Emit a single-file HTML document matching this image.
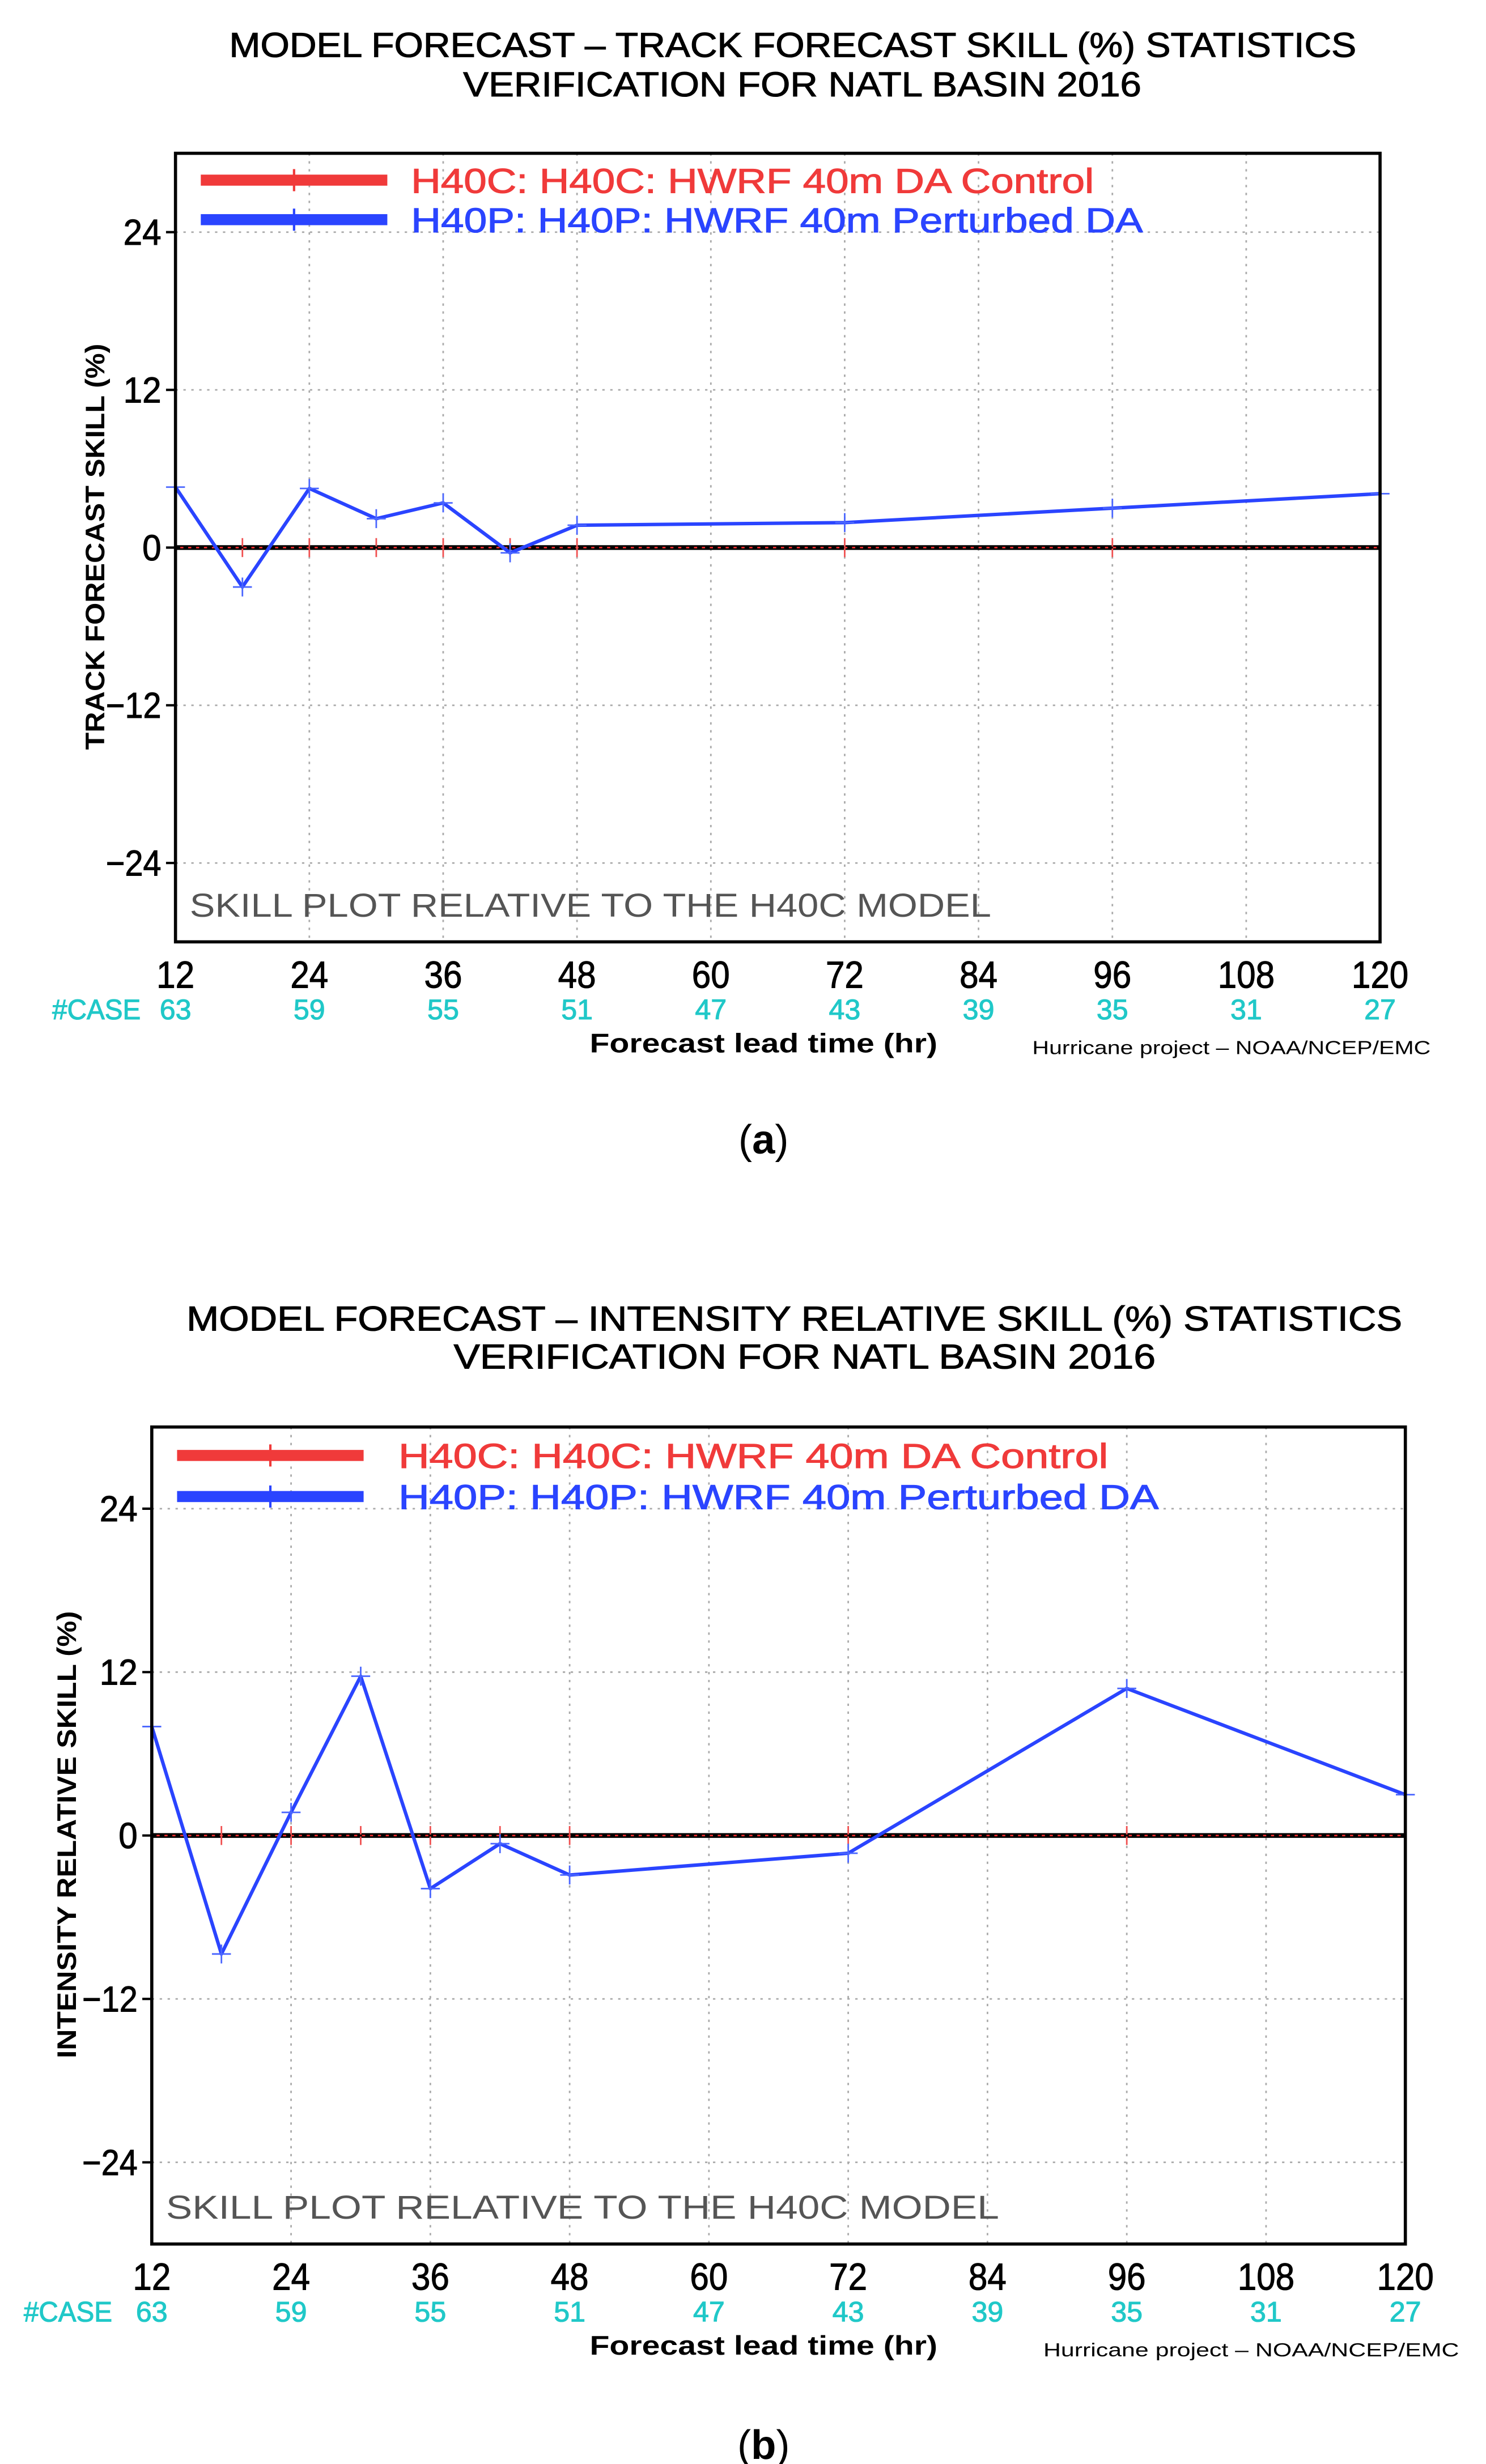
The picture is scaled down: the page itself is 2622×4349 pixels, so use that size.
<!DOCTYPE html>
<html><head><meta charset="utf-8"><style>
html,body{margin:0;padding:0;background:#fff}
svg{display:block}
text{font-family:"Liberation Sans",sans-serif}
</style></head><body>
<svg id="fig" width="2622" height="4349" viewBox="0 0 940 1559.2" xmlns="http://www.w3.org/2000/svg"></svg>
<script>
const leadHours = [12,18,24,30,36,42,48,72,96,120];
const trackSkillH40P = [4.6,-3.0,4.5,2.2,3.4,-0.4,1.7,1.9,3.0,4.1];
const intensitySkillH40P = [8.0,-8.7,1.7,11.7,-3.9,-0.6,-2.9,-1.3,10.8,3.0];
const controlSkill = [0,0,0,0,0,0,0,0,0,0];
const xTicks = [12,24,36,48,60,72,84,96,108,120];
const caseCounts = [63,59,55,51,47,43,39,35,31,27];
const yTicks = [24,12,0,-12,-24];

const NS='http://www.w3.org/2000/svg';
const svg=document.getElementById('fig');
function mk(tag,attrs,parent,txt){const e=document.createElementNS(NS,tag);for(const k in attrs)e.setAttribute(k,attrs[k]);if(txt!==undefined)e.textContent=txt;(parent||svg).appendChild(e);return e;}

function chart(cfg){
  const g=mk('g',{});
  
  
  const L=cfg.left,R=cfg.right,T=cfg.top,B=cfg.bottom;
  const xs=h=>L+(h-12)/(120-12)*(R-L);
  const ys=v=>T+(30-v)/60*(B-T);
  let t=mk('text',{x:(cfg.t1[0]+cfg.t1[1])/2,y:cfg.t1y,'text-anchor':'middle','font-size':22,textLength:cfg.t1[1]-cfg.t1[0],lengthAdjust:'spacingAndGlyphs',fill:'#000',stroke:'#000','stroke-width':0.4},g,cfg.title1);
  
  t=mk('text',{x:(cfg.t2[0]+cfg.t2[1])/2,y:cfg.t2y,'text-anchor':'middle','font-size':22,textLength:cfg.t2[1]-cfg.t2[0],lengthAdjust:'spacingAndGlyphs',fill:'#000',stroke:'#000','stroke-width':0.4},g,'VERIFICATION FOR NATL BASIN 2016');
  
  xTicks.forEach(h=>{const l=mk('line',{x1:xs(h),x2:xs(h),y1:T,y2:B,stroke:'#aaa','stroke-width':1,'stroke-dasharray':'1.5 3.5'},g);});
  yTicks.forEach(v=>{if(v===0)return;const l=mk('line',{x1:L,x2:R,y1:ys(v),y2:ys(v),stroke:'#aaa','stroke-width':1,'stroke-dasharray':'1.5 3.5'},g);});
  let z=mk('line',{x1:L,x2:R,y1:ys(0),y2:ys(0),stroke:'#000','stroke-width':3},g);
  
  let rp=mk('polyline',{points:leadHours.map((h,i)=>xs(h)+','+ys(controlSkill[i])).join(' '),fill:'none',stroke:'#f03030','stroke-width':1},g);
  
  leadHours.forEach((h,i)=>{const m=mk('line',{x1:xs(h),x2:xs(h),y1:ys(controlSkill[i])-6,y2:ys(controlSkill[i])+6,stroke:'#f05050','stroke-width':1},g);});
  mk('line',{x1:L,x2:R,y1:ys(0),y2:ys(0),stroke:'#000','stroke-width':1.2,'stroke-dasharray':'3 2'},g);
  const vals=cfg.values;
  let bp=mk('polyline',{points:leadHours.map((h,i)=>xs(h)+','+ys(vals[i])).join(' '),fill:'none',stroke:'#2a44ff','stroke-width':2.2,'stroke-linejoin':'round'},g);
  
  leadHours.forEach((h,i)=>{const y=ys(vals[i]),x=xs(h);
    const m=mk('path',{d:`M${x-6},${y}H${x+6}M${x},${y-6}V${y+6}`,stroke:'#4a66ff','stroke-width':1},g);
    });
  let f=mk('rect',{x:L,y:T,width:R-L,height:B-T,fill:'none',stroke:'#000','stroke-width':2},g);
  
  const lx1=L+16,lx2=L+134,lt=cfg.legendText;
  [[cfg.legY[0],'#f03a3a','H40C: H40C: HWRF 40m DA Control',lt[0],'legend-entry-h40c'],[cfg.legY[1],'#2a44ff','H40P: H40P: HWRF 40m Perturbed DA',lt[1],'legend-entry-h40p']].forEach(a=>{
    const lg=mk('g',{},g);
    mk('rect',{x:lx1,y:a[0]-3.5,width:lx2-lx1,height:7,fill:a[1]},lg);
    mk('line',{x1:(lx1+lx2)/2,x2:(lx1+lx2)/2,y1:a[0]-7,y2:a[0]+7,stroke:a[1],'stroke-width':1.5},lg);
    mk('text',{x:cfg.legX,y:a[0]+8,'font-size':22,fill:a[1],stroke:a[1],'stroke-width':0.4,textLength:a[3],lengthAdjust:'spacingAndGlyphs'},lg,a[2]);
  });
  t=mk('text',{x:L+9,y:B-16,'font-size':21,fill:'#555',textLength:cfg.skillLen,lengthAdjust:'spacingAndGlyphs'},g,'SKILL PLOT RELATIVE TO THE H40C MODEL');
  
  yTicks.forEach(v=>{const y=ys(v);mk('line',{x1:L-6,x2:L,y1:y,y2:y,stroke:'#000','stroke-width':1.5},g);
    const s=v<0?'\u2212'+(-v):String(v);
    const lb=mk('text',{x:L-9,y:y+8,'text-anchor':'end','font-size':23,fill:'#000',stroke:'#000','stroke-width':0.4,textLength:(v<0?11:0)+12*String(Math.abs(v)).length,lengthAdjust:'spacingAndGlyphs'},g,s);
    });
  t=mk('text',{x:0,y:0,transform:`translate(${cfg.yTitleX},${cfg.yTitleC}) rotate(-90)`,'text-anchor':'middle','font-size':17,'font-weight':'bold',fill:'#000',textLength:cfg.yTitleLen,lengthAdjust:'spacingAndGlyphs'},g,cfg.yTitle);
  
  xTicks.forEach((h,i)=>{
    const lb=mk('text',{x:xs(h),y:B+29,'text-anchor':'middle','font-size':24,fill:'#000',stroke:'#000','stroke-width':0.4,textLength:h>=100?36:24,lengthAdjust:'spacingAndGlyphs'},g,String(h));
    
    const c=mk('text',{x:xs(h),y:B+49,'text-anchor':'middle','font-size':18,fill:'#20c8c8',stroke:'#20c8c8','stroke-width':0.4},g,String(caseCounts[i]));
    
  });
  t=mk('text',{x:cfg.caseX,y:B+49,'font-size':18,fill:'#20c8c8',stroke:'#20c8c8','stroke-width':0.4,textLength:56,lengthAdjust:'spacingAndGlyphs'},g,'#CASE');
  
  t=mk('text',{x:483,y:B+70,'text-anchor':'middle','font-size':17,'font-weight':'bold',fill:'#000',textLength:220,lengthAdjust:'spacingAndGlyphs'},g,'Forecast lead time (hr)');
  
  t=mk('text',{x:cfg.credit[0],y:B+71,'font-size':12,fill:'#000',textLength:cfg.credit[1]-cfg.credit[0],lengthAdjust:'spacingAndGlyphs'},g,'Hurricane project \u2013 NOAA/NCEP/EMC');
  
  t=mk('text',{x:483,y:cfg.capY,'text-anchor':'middle','font-size':26,'font-family':'Liberation Serif, serif',fill:'#000'},g,'');
  
  t.innerHTML='('+'<tspan font-weight="bold">'+cfg.cap+'</tspan>)';
}

chart({name:'track-skill-chart',left:111,right:873,top:97,bottom:596,values:trackSkillH40P,
  title1:'MODEL FORECAST \u2013 TRACK FORECAST SKILL (%) STATISTICS',t1:[145,858],t1y:36,t2:[293,722],t2y:61,
  legY:[114,139],legX:260,legendText:[432,463],skillLen:507,
  yTitle:'TRACK FORECAST SKILL (%)',yTitleX:66,yTitleC:346,yTitleLen:257,
  caseX:33,credit:[653,905],cap:'a',capY:730});
chart({name:'intensity-skill-chart',left:96,right:889,top:903,bottom:1420,values:intensitySkillH40P,
  title1:'MODEL FORECAST \u2013 INTENSITY RELATIVE SKILL (%) STATISTICS',t1:[118,887],t1y:842,t2:[287,731],t2y:866,
  legY:[921,947],legX:252,legendText:[449,481],skillLen:527,
  yTitle:'INTENSITY RELATIVE SKILL (%)',yTitleX:48,yTitleC:1161,yTitleLen:283,
  caseX:15,credit:[660,923],cap:'b',capY:1556});
</script>
</body></html>
